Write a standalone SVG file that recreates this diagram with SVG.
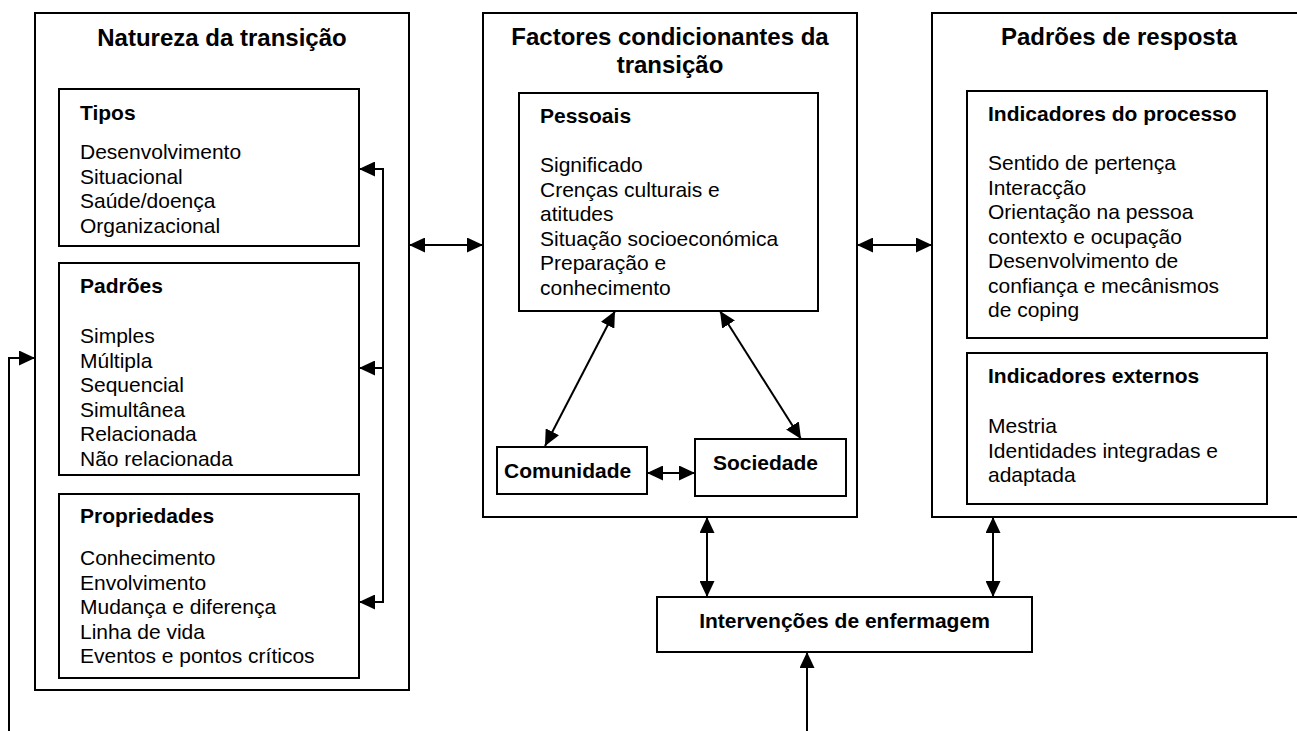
<svg xmlns="http://www.w3.org/2000/svg" width="1297" height="731" viewBox="0 0 1297 731">
<style>
.box{fill:#fff;stroke:#000;stroke-width:2}
.t{font-family:"Liberation Sans",Arial,sans-serif;fill:#000}
.title{font-size:24px;font-weight:bold;text-anchor:middle}
.sub{font-size:21px;font-weight:bold}
.body{font-size:21px}
.ln{fill:none;stroke:#000;stroke-width:2}
</style>
<defs>
<marker id="ah" markerUnits="userSpaceOnUse" markerWidth="16" markerHeight="15" refX="16" refY="7.5" orient="auto-start-reverse" viewBox="0 0 16 15">
<path d="M0,0 L16,7.5 L0,15 z" fill="#000"/>
</marker>
</defs>
<rect width="1297" height="731" fill="#fff"/>

<g id="natureza">
<rect class="box" x="35" y="13" width="374" height="677"/>
<text class="t title" x="222" y="46">Natureza da transição</text>
</g>
<g id="tipos">
<rect class="box" x="59" y="89" width="300" height="157"/>
<text class="t sub" x="80" y="120">Tipos</text>
<text class="t body"><tspan x="80" y="159">Desenvolvimento</tspan><tspan x="80" y="183.5">Situacional</tspan><tspan x="80" y="208">Saúde/doença</tspan><tspan x="80" y="232.5">Organizacional</tspan></text>
</g>
<g id="padroes">
<rect class="box" x="59" y="263" width="300" height="212"/>
<text class="t sub" x="80" y="293">Padrões</text>
<text class="t body"><tspan x="80" y="343">Simples</tspan><tspan x="80" y="367.5">Múltipla</tspan><tspan x="80" y="392">Sequencial</tspan><tspan x="80" y="416.5">Simultânea</tspan><tspan x="80" y="441">Relacionada</tspan><tspan x="80" y="465.5">Não relacionada</tspan></text>
</g>
<g id="propriedades">
<rect class="box" x="59" y="494" width="300" height="184"/>
<text class="t sub" x="80" y="523">Propriedades</text>
<text class="t body"><tspan x="80" y="565">Conhecimento</tspan><tspan x="80" y="589.5">Envolvimento</tspan><tspan x="80" y="614">Mudança e diferença</tspan><tspan x="80" y="638.5">Linha de vida</tspan><tspan x="80" y="663">Eventos e pontos críticos</tspan></text>
</g>

<g id="factores">
<rect class="box" x="483" y="13" width="374" height="504"/>
<text class="t title"><tspan x="670" y="45">Factores condicionantes da</tspan><tspan x="670" y="73">transição</tspan></text>
</g>
<g id="pessoais">
<rect class="box" x="519" y="93" width="299" height="218"/>
<text class="t sub" x="540" y="123">Pessoais</text>
<text class="t body"><tspan x="540" y="172">Significado</tspan><tspan x="540" y="196.5">Crenças culturais e</tspan><tspan x="540" y="221">atitudes</tspan><tspan x="540" y="245.5">Situação socioeconómica</tspan><tspan x="540" y="270">Preparação e</tspan><tspan x="540" y="294.5">conhecimento</tspan></text>
</g>
<g id="comunidade">
<rect class="box" x="497" y="447" width="150" height="47"/>
<text class="t sub" x="504" y="478">Comunidade</text>
</g>
<g id="sociedade">
<rect class="box" x="695" y="439" width="151" height="57"/>
<text class="t sub" x="713" y="470">Sociedade</text>
</g>

<g id="resposta">
<rect class="box" x="932" y="13" width="374" height="504"/>
<text class="t title" x="1119" y="45">Padrões de resposta</text>
</g>
<g id="processo">
<rect class="box" x="967" y="91" width="300" height="247"/>
<text class="t sub" x="988" y="121">Indicadores do processo</text>
<text class="t body"><tspan x="988" y="170">Sentido de pertença</tspan><tspan x="988" y="194.5">Interacção</tspan><tspan x="988" y="219">Orientação na pessoa</tspan><tspan x="988" y="243.5">contexto e ocupação</tspan><tspan x="988" y="268">Desenvolvimento de</tspan><tspan x="988" y="292.5">confiança e mecânismos</tspan><tspan x="988" y="317">de coping</tspan></text>
</g>
<g id="externos">
<rect class="box" x="967" y="353" width="300" height="151"/>
<text class="t sub" x="988" y="383">Indicadores externos</text>
<text class="t body"><tspan x="988" y="433">Mestria</tspan><tspan x="988" y="457.5">Identidades integradas e</tspan><tspan x="988" y="482">adaptada</tspan></text>
</g>

<g id="intervencoes">
<rect class="box" x="657" y="597" width="375" height="55"/>
<text class="t sub" x="844.5" y="628" text-anchor="middle">Intervenções de enfermagem</text>
</g>

<g id="connectors">
<line class="ln" x1="409" y1="245" x2="483" y2="245" marker-start="url(#ah)" marker-end="url(#ah)"/>
<line class="ln" x1="857" y1="245" x2="932" y2="245" marker-start="url(#ah)" marker-end="url(#ah)"/>
<line class="ln" x1="647" y1="473" x2="695" y2="473" marker-start="url(#ah)" marker-end="url(#ah)"/>
<line class="ln" x1="615" y1="311" x2="545" y2="446" marker-start="url(#ah)" marker-end="url(#ah)"/>
<line class="ln" x1="720" y1="311" x2="801" y2="439" marker-start="url(#ah)" marker-end="url(#ah)"/>
<line class="ln" x1="707" y1="517" x2="707" y2="597" marker-start="url(#ah)" marker-end="url(#ah)"/>
<line class="ln" x1="993" y1="517" x2="993" y2="597" marker-start="url(#ah)" marker-end="url(#ah)"/>
<line class="ln" x1="807" y1="731" x2="807" y2="652" marker-end="url(#ah)"/>
<path class="ln" d="M9,731 L9,358 L35,358" marker-end="url(#ah)"/>
<line class="ln" x1="383" y1="168" x2="383" y2="603"/>
<line class="ln" x1="383" y1="169" x2="359" y2="169" marker-end="url(#ah)"/>
<line class="ln" x1="383" y1="368" x2="359" y2="368" marker-end="url(#ah)"/>
<line class="ln" x1="383" y1="602" x2="359" y2="602" marker-end="url(#ah)"/>
</g>
</svg>
